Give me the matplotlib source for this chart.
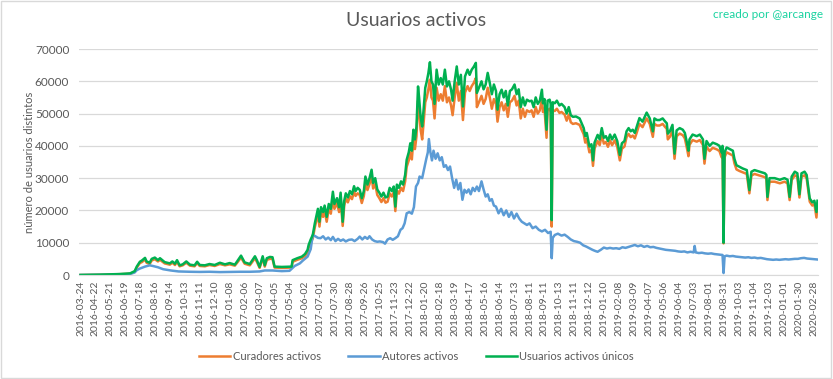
import matplotlib
matplotlib.use("Agg")
import matplotlib.pyplot as plt
from matplotlib.patches import Rectangle

plt.rcParams['font.family'] = ['Lato', 'DejaVu Sans']

# point number (one point per day in the source sheet)
dias = [0, 37, 76, 96, 105, 109, 115, 119, 125, 128, 134, 138, 144, 150, 154, 163, 173, 178, 183, 187,
        192, 198, 205, 212, 221, 226, 231, 241, 250, 260, 270, 280, 289, 299, 303, 311, 318, 328, 338, 342,
        347, 353, 357, 361, 367, 372, 376, 390, 409, 411, 420, 429, 435, 440, 442, 446, 450, 454, 458, 460,
        463, 466, 470, 473, 477, 481, 485, 489, 492, 497, 501, 504, 508, 511, 514, 518, 522, 526, 530, 533,
        537, 541, 545, 549, 552, 556, 560, 564, 567, 571, 575, 579, 583, 587, 591, 595, 599, 603, 607, 610,
        613, 617, 621, 625, 629, 632, 636, 639, 642, 645, 648, 651, 654, 656, 659, 662, 665, 668, 671, 674,
        677, 680, 683, 686, 690, 694, 698, 702, 706, 710, 714, 718, 721, 725, 729, 733, 737, 741, 745, 750,
        754, 758, 762, 766, 768, 772, 777, 781, 785, 789, 793, 797, 801, 805, 808, 812, 816, 820, 824, 828,
        832, 836, 841, 845, 849, 853, 857, 861, 865, 870, 874, 878, 882, 886, 890, 894, 896, 899, 903, 905,
        909, 911, 913, 915, 919, 923, 928, 932, 938, 942, 946, 950, 954, 960, 967, 971, 975, 978, 981, 986,
        990, 993, 996, 1002, 1006, 1010, 1014, 1018, 1022, 1026, 1030, 1035, 1040, 1045, 1049, 1054, 1058, 1062, 1066, 1070,
        1074, 1078, 1083, 1089, 1097, 1103, 1109, 1112, 1117, 1122, 1128, 1133, 1136, 1138, 1142, 1147, 1151, 1155, 1161, 1167,
        1171, 1175, 1178, 1180, 1186, 1194, 1200, 1206, 1209, 1213, 1219, 1225, 1233, 1238, 1242, 1244, 1246, 1248, 1252, 1258,
        1264, 1267, 1271, 1277, 1283, 1291, 1296, 1300, 1306, 1316, 1326, 1329, 1331, 1335, 1345, 1355, 1364, 1370, 1374, 1378,
        1384, 1389, 1393, 1397, 1403, 1407, 1413, 1418, 1422, 1426, 1428]

unicos = [0, 100, 300, 500, 1200, 2600, 4100, 4500, 5300, 4200, 3800, 5000, 5400, 4600, 5200, 4000, 3600, 4200, 3500, 4600,
          3000, 3300, 4200, 3200, 3000, 4100, 3100, 3000, 3400, 3100, 3800, 3300, 3700, 3200, 4100, 6000, 3900, 3400, 5800, 4500,
          2500, 5800, 3000, 5200, 5600, 5500, 2600, 2500, 2600, 4600, 5200, 5700, 6500, 7800, 9300, 11000, 12400, 16000, 19000, 20500,
          16500, 21000, 19500, 21500, 18000, 22000, 20500, 25800, 22000, 23800, 21000, 25500, 16500, 23000, 25300, 24000, 26000, 25000, 27500, 26000,
          27000, 26400, 23800, 26000, 30500, 28000, 30000, 32600, 28500, 30000, 26500, 25500, 24300, 25500, 24000, 24300, 27000, 26000, 27400, 21200,
          28000, 27000, 29000, 28000, 31000, 35700, 38000, 40800, 38500, 45000, 42000, 46000, 58400, 55000, 49000, 46000, 51700, 58000, 60000, 62500,
          65900, 60000, 59000, 53000, 63600, 59000, 61000, 59000, 63600, 58400, 60000, 57400, 54000, 60000, 64600, 59000, 62000, 52200, 61500, 63600,
          62000, 63600, 64500, 65700, 56400, 58000, 60000, 57500, 59000, 62600, 59500, 56000, 59000, 57000, 51200, 56000, 57400, 55000, 57000, 52500,
          57000, 57500, 59000, 56000, 57500, 52000, 55000, 52500, 54300, 53800, 54000, 52000, 55000, 53000, 54000, 57400, 53200, 54500, 45000, 54000,
          54300, 53000, 17000, 53500, 53200, 54000, 52500, 53000, 52000, 50000, 52000, 49500, 49000, 49100, 48500, 47000, 45500, 43000, 44000, 39800,
          40500, 35500, 41000, 43400, 42000, 45500, 42500, 43000, 41500, 43500, 42000, 43500, 41500, 37200, 40800, 41500, 44500, 45500, 44500, 45000,
          44000, 46000, 48600, 47500, 50300, 48500, 44500, 48500, 48000, 48000, 48500, 47500, 47000, 43800, 44500, 46500, 37600, 44800, 45500, 45000,
          44000, 41000, 38500, 42000, 43500, 43000, 43500, 42000, 36000, 41500, 40000, 41000, 40500, 40000, 38000, 40000, 10000, 38000, 39500, 39000,
          38500, 36000, 34000, 33500, 33000, 32500, 26300, 32000, 32500, 32000, 31500, 31000, 24200, 30000, 30000, 29500, 30000, 29500, 24200, 30500,
          32000, 31500, 25000, 31500, 32000, 31000, 23700, 22500, 23000, 19500, 23000]

curadores = [0, 80, 250, 400, 1000, 2300, 3700, 4000, 4800, 3800, 3400, 4500, 4900, 4200, 4700, 3600, 3200, 3800, 3100, 4100,
             2700, 3000, 3800, 2900, 2700, 3700, 2800, 2700, 3100, 2800, 3400, 3000, 3300, 2900, 3700, 5400, 3500, 3000, 5200, 4000,
             2200, 5200, 2600, 4700, 5000, 5000, 2300, 2200, 2300, 4100, 4700, 5200, 5900, 7000, 8500, 10000, 11300, 14800, 17500, 19000,
             15000, 19500, 18000, 20000, 16500, 20500, 19000, 24000, 20500, 22300, 19500, 23800, 15200, 21500, 23700, 22500, 24400, 23500, 25800, 24500,
             25300, 24800, 22300, 24500, 28500, 26300, 28200, 30600, 26800, 28200, 24800, 23800, 22600, 23800, 22400, 22700, 25300, 24300, 25700, 19800,
             26200, 25200, 27000, 26000, 29000, 33500, 35500, 38000, 35800, 42000, 39000, 43000, 54000, 51000, 45000, 42000, 47500, 53500, 55000, 57500,
             60500, 55000, 54000, 48500, 58000, 54000, 56000, 54000, 58500, 53500, 55000, 52500, 49500, 55000, 59500, 54000, 57000, 48000, 56500, 58500,
             57000, 58500, 59500, 61000, 52000, 53500, 55500, 53000, 54500, 58000, 55000, 51500, 54500, 53000, 47500, 52000, 53500, 51000, 53000, 49000,
             53500, 54000, 55500, 52500, 54000, 48500, 51500, 49000, 51000, 50500, 51000, 49000, 52000, 50000, 51000, 54500, 50500, 51500, 42500, 51000,
             51500, 50500, 15000, 51000, 50800, 51500, 50200, 50500, 49700, 47800, 49700, 47300, 46800, 47000, 46500, 45000, 43600, 41000, 42100, 38000,
             38700, 33800, 39200, 41500, 40200, 43500, 40700, 41200, 39700, 41700, 40200, 41700, 39700, 35500, 39100, 39800, 42700, 43700, 42700, 43200,
             42300, 44200, 46800, 45800, 48500, 46800, 42800, 46800, 46300, 46300, 46800, 45800, 45300, 42000, 42800, 44800, 36000, 43000, 43800, 43300,
             42300, 39300, 36800, 40300, 41800, 41300, 41800, 40300, 34500, 39800, 38400, 39400, 38900, 38400, 36500, 38400, 9800, 36500, 38000, 37500,
             37000, 34600, 32700, 32200, 31800, 31300, 25300, 30800, 31300, 30800, 30300, 29800, 23200, 28900, 28900, 28400, 28900, 28400, 23200, 29400,
             30900, 30400, 24000, 30400, 30900, 29900, 22700, 21500, 22000, 17800, 21800]

dias_autores = [0, 76, 96, 105, 109, 115, 125, 134, 140, 150, 160, 175, 190, 212, 231, 250, 270, 289, 309, 328,
                347, 357, 372, 390, 405, 415, 425, 431, 440, 446, 450, 455, 460, 465, 470, 475, 480, 485, 489, 494,
                499, 504, 509, 514, 520, 526, 531, 537, 541, 546, 551, 556, 560, 565, 570, 575, 580, 586, 590, 595,
                600, 605, 610, 615, 620, 624, 628, 632, 637, 642, 646, 650, 654, 657, 662, 666, 670, 673, 675, 678,
                681, 684, 688, 692, 696, 700, 704, 708, 712, 716, 720, 724, 728, 732, 736, 740, 744, 748, 752, 756,
                760, 764, 768, 772, 777, 781, 785, 789, 793, 797, 801, 805, 810, 815, 820, 825, 830, 835, 840, 845,
                850, 855, 860, 865, 870, 876, 882, 888, 894, 900, 906, 911, 913, 915, 919, 925, 932, 938, 944, 950,
                956, 962, 968, 974, 980, 986, 992, 998, 1002, 1008, 1014, 1020, 1026, 1032, 1038, 1044, 1050, 1056, 1062, 1068,
                1074, 1080, 1086, 1092, 1098, 1104, 1110, 1116, 1122, 1128, 1134, 1140, 1146, 1152, 1158, 1164, 1170, 1176, 1182, 1188,
                1190, 1192, 1198, 1204, 1210, 1216, 1222, 1228, 1234, 1240, 1244, 1246, 1248, 1252, 1258, 1264, 1270, 1276, 1282, 1288,
                1294, 1300, 1306, 1312, 1318, 1324, 1330, 1336, 1342, 1348, 1354, 1360, 1366, 1372, 1378, 1384, 1390, 1396, 1402, 1408,
                1414, 1420, 1428]

autores = [0, 100, 300, 800, 1500, 2000, 2600, 3000, 2800, 2400, 1800, 1400, 1100, 1000, 950, 1000, 900, 950, 1000, 1000,
           1100, 1400, 1400, 1200, 1300, 2800, 3600, 4500, 5700, 8000, 12400, 12000, 11500, 11400, 12000, 11000, 11600, 10800, 11800, 10500,
           11200, 10600, 11000, 10400, 10900, 11000, 10500, 11200, 11900, 11000, 11800, 11200, 12000, 11000, 10500, 10300, 10400, 10200, 9700, 11000,
           11400, 10900, 11400, 12000, 14000, 14500, 16000, 19100, 19500, 19000, 21000, 27400, 28500, 30500, 30000, 33000, 36000, 38000, 42100, 38000,
           35500, 38500, 36000, 37700, 35500, 36500, 33500, 34000, 32500, 33600, 30000, 27000, 29500, 26500, 28500, 23300, 26400, 25500, 26500, 25000,
           27000, 26000, 27400, 26000, 29000, 26500, 24300, 25000, 23000, 23500, 21500, 21200, 19100, 20500, 18500, 20000, 18000, 19500, 17500, 19000,
           17500, 16500, 16000, 15500, 16000, 14500, 15000, 14000, 13500, 14000, 13000, 13400, 5200, 11500, 12400, 12800, 12200, 12500, 11800, 11000,
           10500, 10300, 10000, 9200, 8800, 8300, 7800, 7400, 7200, 7800, 8500, 8200, 8400, 8200, 8300, 8100, 8600, 8400, 8700, 9000,
           9300, 8900, 9200, 8700, 9000, 8600, 8700, 8400, 8200, 8000, 7800, 7700, 7600, 7500, 7300, 7200, 7300, 7000, 7200, 7000,
           9000, 7000, 6800, 6900, 6700, 6600, 6700, 6500, 6400, 6300, 6200, 600, 5800, 6000, 5800, 5900, 5700, 5600, 5500, 5400,
           5500, 5300, 5400, 5200, 5300, 5100, 4900, 4800, 4700, 4800, 4700, 4800, 4900, 4800, 4900, 5000, 5000, 5200, 5300, 5100,
           5000, 4900, 4800]

etiquetas = ["2016-03-24", "2016-04-22", "2016-05-21", "2016-06-19", "2016-07-18", "2016-08-16", "2016-09-14",
             "2016-10-13", "2016-11-11", "2016-12-10", "2017-01-08", "2017-02-06", "2017-03-07", "2017-04-05",
             "2017-05-04", "2017-06-02", "2017-07-01", "2017-07-30", "2017-08-28", "2017-09-26", "2017-10-25",
             "2017-11-23", "2017-12-22", "2018-01-20", "2018-02-18", "2018-03-19", "2018-04-17", "2018-05-16",
             "2018-06-14", "2018-07-13", "2018-08-11", "2018-09-11", "2018-10-13", "2018-11-11", "2018-12-12",
             "2019-01-10", "2019-02-08", "2019-03-09", "2019-04-07", "2019-05-06", "2019-06-04", "2019-07-03",
             "2019-08-01", "2019-08-31", "2019-10-03", "2019-11-04", "2019-12-03", "2020-01-01", "2020-01-30",
             "2020-02-28"]

gris = "#595959"

fig = plt.figure(figsize=(8.33, 3.79), dpi=100)
ax = fig.add_axes([0.0948, 0.2744, 0.8872, 0.5963])

ax.plot(dias, curadores, color="#ED7D31", lw=1.8, label="Curadores activos")
ax.plot(dias_autores, autores, color="#5B9BD5", lw=1.8, label="Autores activos")
ax.plot(dias, unicos, color="#00B050", lw=1.8, label="Usuarios activos únicos")

ax.set_ylim(0, 70000)
ax.set_xlim(-3, 1429)
ax.set_yticks(range(0, 70001, 10000))
ax.set_xticks(range(0, 29 * len(etiquetas), 29))
ax.set_xticklabels(etiquetas, rotation=90, fontsize=7.5, color=gris)
ax.tick_params(axis="y", labelsize=8.5, labelcolor=gris, length=0, pad=7)
ax.tick_params(axis="x", length=0, pad=4)
ax.yaxis.grid(True, color="#D9D9D9", lw=0.9)
ax.set_axisbelow(True)
for s in ["top", "right", "left"]:
    ax.spines[s].set_visible(False)
ax.spines["bottom"].set_color("#D9D9D9")

ax.set_ylabel("número de usuarios distintos", fontsize=8, color=gris, labelpad=0)
fig.text(0.5, 1 - 20 / 379, "Usuarios activos", ha="center", va="center",
         fontsize=14, color=gris)
fig.text(0.988, 1 - 14 / 379, "creado por @arcange", ha="right", va="center",
         fontsize=8.5, color="#1ad3a0")

leg = fig.legend(loc="center", bbox_to_anchor=(0.5, 1 - 356 / 379), ncol=3, frameon=False,
                 fontsize=8, handlelength=2.8, handletextpad=0.2, columnspacing=2.5)
for t in leg.get_texts():
    t.set_color(gris)

fig.patches.append(Rectangle((0.001, 0.002), 0.997, 0.996, transform=fig.transFigure,
                             fill=False, edgecolor="#D9D9D9", lw=1))

fig.savefig("out.png", dpi=100)
